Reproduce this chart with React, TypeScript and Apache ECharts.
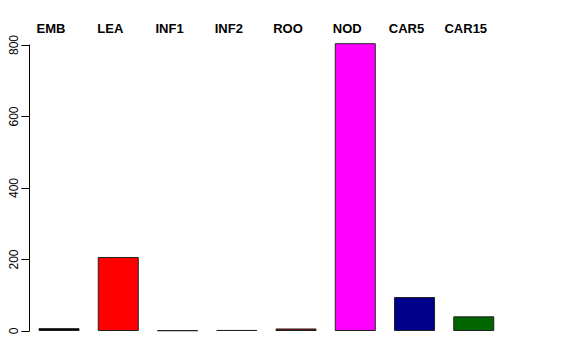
import React, { useEffect, useRef } from "react";
import * as echarts from "echarts";

const categories = ["EMB", "LEA", "INF1", "INF2", "ROO", "NOD", "CAR5", "CAR15"];
const values = [8, 207, 2, 3, 7, 805, 95, 41];
const colors = ["#000000", "#ff0000", "#4f6b4f", "#4a4a5a", "#8b0000", "#ff00ff", "#00008b", "#006400"];
const yTicks = [0, 200, 400, 600, 800];

export default function App() {
  const ref = useRef<HTMLDivElement>(null);
  useEffect(() => {
    if (!ref.current) return;
    const chart = echarts.init(ref.current, null, { renderer: "svg" });
    chart.setOption({
      animation: false,
      backgroundColor: "#ffffff",
      grid: { left: 29.4, right: 72.6, top: 45, bottom: 29 },
      xAxis: {
        type: "category",
        data: categories,
        position: "top",
        axisLine: { show: false },
        axisTick: { show: false },
        axisLabel: {
          show: true,
          margin: 10,
          fontFamily: "Liberation Sans, Arial, sans-serif",
          fontWeight: "bold",
          fontSize: 13,
          color: "#000",
          padding: [0, 16, 0, 0],
          interval: 0,
        },
      },
      yAxis: {
        type: "value",
        min: yTicks[0],
        max: yTicks[yTicks.length - 1],
        interval: 200,
        splitLine: { show: false },
        axisLine: { show: true, lineStyle: { color: "#000", width: 1 } },
        axisTick: { show: true, length: 8, lineStyle: { color: "#000" } },
        axisLabel: {
          rotate: 90,
          margin: 9,
          fontFamily: "Liberation Sans, Arial, sans-serif",
          fontSize: 12,
          color: "#000",
        },
      },
      series: [
        {
          type: "bar",
          clip: false,
          barWidth: 41,
          data: values.map((v, i) => ({
            value: v,
            itemStyle: { color: colors[i], borderColor: "#222", borderWidth: 1 },
          })),
        },
      ],
    });
    return () => chart.dispose();
  }, []);
  return <div ref={ref} style={{ width: 576, height: 360, position: "absolute", left: 0, top: 0 }} />;
}
